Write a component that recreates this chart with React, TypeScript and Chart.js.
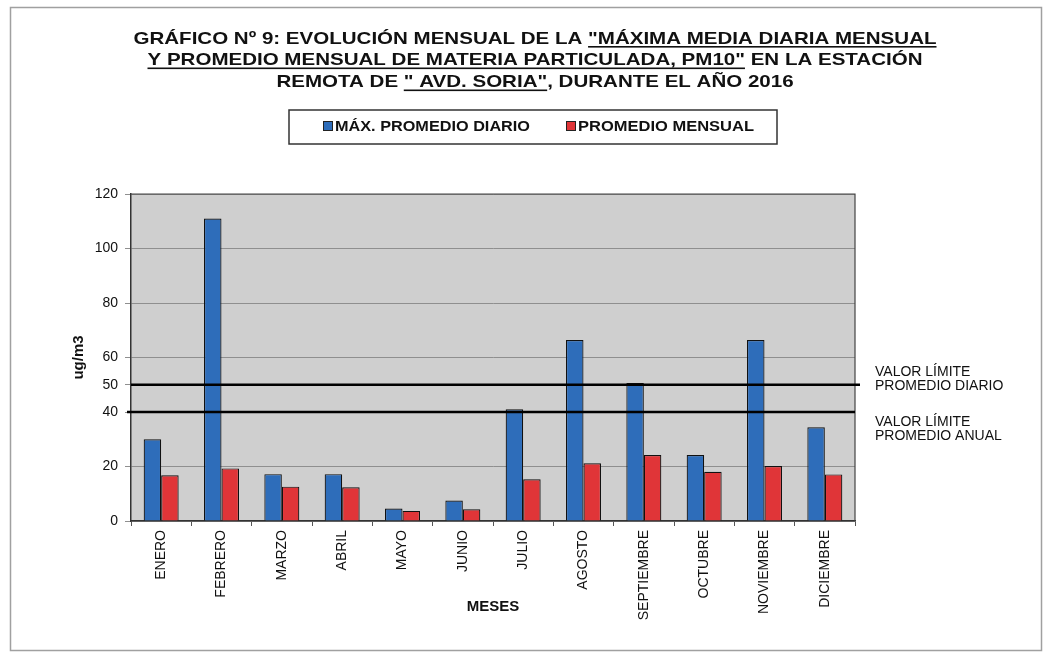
import React, { useEffect, useRef } from 'react';
import { Chart, registerables } from 'chart.js';

Chart.register(...registerables);

const MONTHS = ['ENERO', 'FEBRERO', 'MARZO', 'ABRIL', 'MAYO', 'JUNIO', 'JULIO', 'AGOSTO', 'SEPTIEMBRE', 'OCTUBRE', 'NOVIEMBRE', 'DICIEMBRE'];
const MAX_DAILY = [30, 111, 17.2, 17.2, 4.6, 7.5, 41, 66.4, 50.6, 24.2, 66.4, 34.4];
const MONTHLY_AVG = [16.8, 19.3, 12.6, 12.4, 3.7, 4.3, 15.3, 21.2, 24.2, 18.1, 20.2, 17.1];
const SERIES_NAMES = ['MÁX. PROMEDIO DIARIO', 'PROMEDIO MENSUAL'];
const SERIES_COLORS = ['#2e6dba', '#e03538'];
const Y_TICKS = [0, 20, 40, 50, 60, 80, 100, 120];
const LIMIT_VALUES = [50, 40];
const LIMIT_LABELS = [
  ['VALOR LÍMITE', 'PROMEDIO DIARIO'],
  ['VALOR LÍMITE', 'PROMEDIO ANUAL'],
];
// [text, underlined]
const TITLE_LINES: [string, boolean][][] = [
  [['GRÁFICO Nº 9: EVOLUCIÓN MENSUAL DE LA ', false], ['"MÁXIMA MEDIA DIARIA MENSUAL', true]],
  [['Y PROMEDIO MENSUAL DE MATERIA PARTICULADA, PM10"', true], [' EN LA ESTACIÓN', false]],
  [['REMOTA DE ', false], ['" AVD. SORIA"', true], [', DURANTE EL AÑO 2016', false]],
];
const Y_TITLE = 'ug/m3';
const X_TITLE = 'MESES';

const FONT = '"Liberation Sans", Arial, Helvetica, sans-serif';

const decorPlugin = {
  id: 'decor',
  beforeDraw(chart: any) {
    const ctx = chart.ctx;
    const a = chart.chartArea;
    ctx.save();
    ctx.fillStyle = '#ffffff';
    ctx.fillRect(0, 0, chart.width, chart.height);
    ctx.strokeStyle = '#a0a0a0';
    ctx.lineWidth = 1.5;
    ctx.strokeRect(10.5, 7.5, 1031, 643);
    ctx.fillStyle = '#cfcfcf';
    ctx.fillRect(a.left, a.top, a.right - a.left, a.bottom - a.top);
    ctx.restore();
  },
  afterDatasetsDraw(chart: any) {
    const ctx = chart.ctx;
    const a = chart.chartArea;
    const y = chart.scales.y;
    ctx.save();
    ctx.strokeStyle = '#444';
    ctx.lineWidth = 1.2;
    ctx.beginPath();
    ctx.moveTo(a.left, a.top);
    ctx.lineTo(a.right, a.top);
    ctx.lineTo(a.right, a.bottom);
    ctx.stroke();
    ctx.strokeStyle = '#000';
    ctx.lineWidth = 2.6;
    LIMIT_VALUES.forEach((v, i) => {
      const py = y.getPixelForValue(v);
      ctx.beginPath();
      ctx.moveTo(i === 0 ? a.left : a.left - 4, py);
      ctx.lineTo(i === 0 ? a.right + 5 : a.right, py);
      ctx.stroke();
    });
    ctx.restore();
  },
  afterDraw(chart: any) {
    const ctx = chart.ctx;
    const y = chart.scales.y;
    ctx.save();
    ctx.fillStyle = '#111';
    ctx.font = `bold 17px ${FONT}`;
    ctx.textBaseline = 'alphabetic';
    ctx.textAlign = 'left';
    const first = TITLE_LINES[0].map((s) => s[0]).join('');
    const sx = 803 / ctx.measureText(first).width;
    const cx = 535;
    const baselines = [43.5, 65, 87];
    TITLE_LINES.forEach((segs, li) => {
      const full = segs.map((s) => s[0]).join('');
      const w = ctx.measureText(full).width;
      ctx.save();
      ctx.translate(cx - (w * sx) / 2, baselines[li]);
      ctx.scale(sx, 1);
      let cur = 0;
      segs.forEach(([t, u]) => {
        ctx.fillText(t, cur, 0);
        const tw = ctx.measureText(t).width;
        if (u) ctx.fillRect(cur, 2.5, tw, 1.6);
        cur += tw;
      });
      ctx.restore();
    });

    ctx.strokeStyle = '#333';
    ctx.lineWidth = 1.5;
    ctx.strokeRect(289, 110, 488, 34);
    ctx.font = `bold 15px ${FONT}`;
    ctx.textBaseline = 'middle';
    const legendX = [323, 566];
    const legendW = [195, 176];
    SERIES_NAMES.forEach((name, i) => {
      const lx = legendX[i];
      ctx.fillStyle = SERIES_COLORS[i];
      ctx.fillRect(lx, 121, 10, 10);
      ctx.strokeStyle = '#222';
      ctx.lineWidth = 1;
      ctx.strokeRect(lx + 0.5, 121.5, 9, 9);
      ctx.fillStyle = '#111';
      const tw = ctx.measureText(name).width;
      ctx.save();
      ctx.translate(lx + 12, 126.5);
      ctx.scale(legendW[i] / tw, 1);
      ctx.fillText(name, 0, 0);
      ctx.restore();
    });

    ctx.font = `14px ${FONT}`;
    ctx.textBaseline = 'middle';
    ctx.fillStyle = '#111';
    LIMIT_VALUES.forEach((v, i) => {
      const py = y.getPixelForValue(v);
      const offs = i === 0 ? [-13, 1] : [10, 24];
      LIMIT_LABELS[i].forEach((t, k) => {
        ctx.fillText(t, 875, py + offs[k]);
      });
    });
    ctx.restore();
  },
};

export default function App() {
  const ref = useRef<HTMLCanvasElement | null>(null);
  useEffect(() => {
    if (!ref.current) return;
    const chart = new Chart(ref.current, {
      type: 'bar',
      data: {
        labels: MONTHS,
        datasets: [
          {
            label: SERIES_NAMES[0],
            data: MAX_DAILY,
            backgroundColor: SERIES_COLORS[0],
            borderColor: '#111',
            borderWidth: 1.2,
            categoryPercentage: 0.58,
            barPercentage: 1,
          },
          {
            label: SERIES_NAMES[1],
            data: MONTHLY_AVG,
            backgroundColor: SERIES_COLORS[1],
            borderColor: '#111',
            borderWidth: 1.2,
            categoryPercentage: 0.58,
            barPercentage: 1,
          },
        ],
      },
      options: {
        responsive: false,
        animation: false,
        devicePixelRatio: 1,
        layout: { padding: { top: 194, right: 194, bottom: 0, left: 0 } },
        plugins: {
          legend: { display: false },
          title: { display: false },
          tooltip: { enabled: false },
        },
        scales: {
          x: {
            grid: { drawOnChartArea: false, drawTicks: true, tickLength: 5, color: '#555', offset: true },
            border: { color: '#333', width: 1.5 },
            ticks: {
              autoSkip: false,
              maxRotation: 90,
              minRotation: 90,
              padding: 4,
              color: '#111',
              font: { family: FONT, size: 14 },
            },
            title: {
              display: true,
              text: X_TITLE,
              color: '#111',
              font: { family: FONT, size: 15, weight: 'bold' },
              padding: { top: 0, bottom: 40 },
            },
            afterFit: (s: any) => {
              s.height = 135;
            },
          },
          y: {
            min: 0,
            max: 120,
            afterBuildTicks: (s: any) => {
              s.ticks = Y_TICKS.map((v) => ({ value: v }));
            },
            grid: { color: '#8f8f8f', lineWidth: 1, tickLength: 6 },
            border: { color: '#333', width: 1.5 },
            ticks: {
              padding: 7,
              color: '#111',
              font: { family: FONT, size: 14 },
            },
            title: {
              display: true,
              text: Y_TITLE,
              color: '#111',
              font: { family: FONT, size: 15, weight: 'bold' },
              padding: { top: 70, bottom: 0 },
            },
            afterFit: (s: any) => {
              s.width = 131;
            },
          },
        },
      },
      plugins: [decorPlugin],
    });
    return () => chart.destroy();
  }, []);
  return (
    <div style={{ position: 'fixed', left: 0, top: 0, width: 1049, height: 656 }}>
      <canvas ref={ref} width={1049} height={656} style={{ width: 1049, height: 656, display: 'block' }} />
    </div>
  );
}
